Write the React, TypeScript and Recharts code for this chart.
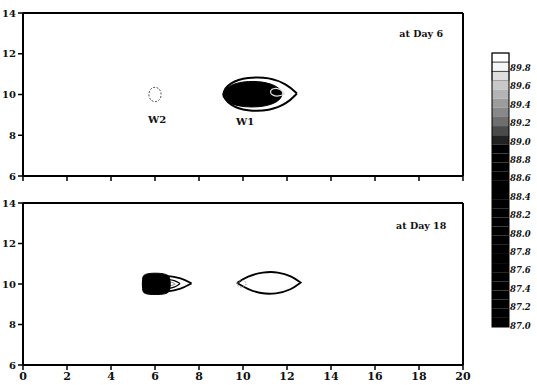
import { ScatterChart, Scatter, XAxis, YAxis, ReferenceDot, Curve } from "recharts";

const xTicks = [0, 2, 4, 6, 8, 10, 12, 14, 16, 18, 20];
const yTicks = [6, 8, 10, 12, 14];

// contour outlines (x = distance, y = distance)
const d6W1Outer = [[12.45, 10.05], [12.45, 10.05], [12.45, 10.05], [12.0, 10.5], [11.2, 10.85], [10.2, 10.85], [9.4, 10.6], [9.0, 10.05], [9.4, 9.45], [10.2, 9.18], [11.2, 9.2], [12.0, 9.55]];
const d6W1Core = [[11.85, 10.02], [11.6, 10.4], [10.9, 10.65], [10.0, 10.65], [9.35, 10.45], [8.95, 10.0], [9.35, 9.55], [10.0, 9.38], [10.9, 9.38], [11.6, 9.62]];
const d6W1Inner = [[11.9, 10.02], [11.9, 10.02], [11.9, 10.02], [11.7, 10.28], [11.35, 10.32], [11.2, 10.12], [11.35, 9.95], [11.6, 9.9]];
const d6W2Ring = [[6.0, 10.39], [6.22, 10.28], [6.31, 10.0], [6.22, 9.72], [6.0, 9.61], [5.78, 9.72], [5.69, 10.0], [5.78, 10.28]];

const d18W2Outer = [[7.66, 10.03], [7.66, 10.03], [7.66, 10.03], [7.2, 10.3], [6.5, 10.42], [5.9, 10.42], [5.55, 10.3], [5.45, 10.0], [5.55, 9.7], [5.9, 9.58], [6.5, 9.6], [7.2, 9.75]];
const d18W2Ring = [[7.14, 10.02], [7.14, 10.02], [7.14, 10.02], [6.9, 10.18], [6.5, 10.25], [6.2, 10.2], [6.1, 10.0], [6.2, 9.8], [6.5, 9.75], [6.9, 9.83]];
const d18W2Small = [[6.92, 10.0], [6.92, 10.0], [6.92, 10.0], [6.75, 10.1], [6.55, 10.1], [6.5, 10.0], [6.55, 9.9], [6.75, 9.9]];
const d18W2Core = [[5.5, 10.5], [6.0, 10.55], [6.55, 10.5], [6.7, 10.3], [6.7, 9.7], [6.55, 9.5], [6.0, 9.47], [5.5, 9.5], [5.42, 9.7], [5.42, 10.3]];
const d18W1Lens = [[9.73, 10.05], [9.73, 10.05], [9.73, 10.05], [10.2, 10.38], [10.9, 10.6], [11.6, 10.6], [12.2, 10.4], [12.62, 10.07], [12.62, 10.07], [12.62, 10.07], [12.2, 9.72], [11.5, 9.5], [10.8, 9.52], [10.2, 9.75]];
const d18W1Tip = [[9.85, 10.22], [10.1, 10.14], [10.18, 10.0], [10.05, 9.86], [9.8, 9.83], [9.72, 10.0]];

const colorTicks = ["89.8", "89.6", "89.4", "89.2", "89.0", "88.8", "88.6", "88.4", "88.2", "88.0", "87.8", "87.6", "87.4", "87.2", "87.0"];
// top boxes of the colour bar (90.0 downwards); the rest are black
const colorShades = ["#ffffff", "#f6f6f6", "#dedede", "#c8c8c8", "#b4b4b4", "#9c9c9c", "#888888", "#6e6e6e", "#4a4a4a", "#222222"];
const colorBoxes = 30;

const pts = (a: number[][]) => a.map(([x, y]) => ({ x, y }));

const font = "'DejaVu Serif', serif";
const tickStyle = { fill: "#111", fontSize: 10, fontFamily: font, fontWeight: "bold" };
const noLabel = () => "";
const hidden = () => <g />;

function contourLine(fill: string, stroke: string, width: number, dash?: string) {
  return (p: any) => (
    <Curve
      points={p.points}
      type="basisClosed"
      fill={fill}
      stroke={stroke}
      strokeWidth={width}
      strokeDasharray={dash}
    />
  );
}

function Axes({ showX }: { showX: boolean }) {
  const common = {
    axisLine: { stroke: "#000", strokeWidth: 2 },
    tickLine: { stroke: "#000", strokeWidth: 1.5 },
    tickSize: 5,
  };
  return [
    <XAxis
      key="xb"
      type="number"
      dataKey="x"
      domain={[0, 20]}
      ticks={xTicks}
      height={showX ? 20 : 14}
      tick={{ ...tickStyle, fontSize: 11 }}
      tickFormatter={showX ? undefined : noLabel}
      {...common}
    />,
    <XAxis
      key="xt"
      xAxisId="top"
      orientation="top"
      type="number"
      domain={[0, 20]}
      ticks={xTicks}
      height={8}
      tickFormatter={noLabel}
      {...common}
    />,
    <YAxis
      key="yl"
      type="number"
      dataKey="y"
      domain={[6, 14]}
      ticks={yTicks}
      width={23}
      tick={tickStyle}
      {...common}
    />,
    <YAxis
      key="yr"
      yAxisId="right"
      orientation="right"
      type="number"
      domain={[6, 14]}
      ticks={yTicks}
      width={10}
      tickFormatter={noLabel}
      {...common}
    />,
  ];
}

const textLabel = (value: string, size = 10) => ({
  value,
  position: "center" as const,
  fill: "#111",
  fontSize: size,
  fontFamily: font,
  fontWeight: "bold",
});

function ColorBar() {
  const top = 53;
  const h = 274 / colorBoxes;
  return (
    <svg width={57} height={340} style={{ position: "absolute", left: 480, top: 0 }}>
      {Array.from({ length: colorBoxes }, (_, i) => (
        <rect
          key={i}
          x={12}
          y={top + i * h}
          width={17}
          height={h}
          fill={colorShades[i] ?? "#000"}
          stroke={i < 3 ? "#000" : "none"}
          strokeWidth={0.6}
        />
      ))}
      <rect x={12} y={top} width={17} height={274} fill="none" stroke="#000" strokeWidth={1} />
      {colorTicks.map((t, i) => (
        <text
          key={t}
          x={30}
          y={68 + i * 18.4}
          dominantBaseline="central"
          fontSize={8.5}
          fontFamily={font}
          fontWeight="bold"
          fontStyle="italic"
          fill="#111"
        >
          {t}
        </text>
      ))}
    </svg>
  );
}

export default function App() {
  const margin = { top: 5, right: 64, bottom: 0, left: 0 };
  return (
    <div style={{ position: "absolute", left: 0, top: 0, width: 537, height: 385, background: "#fff" }}>
      <div style={{ position: "absolute", left: 0, top: 0 }}>
        <ScatterChart width={537} height={190} margin={margin}>
          {Axes({ showX: false })}
          <Scatter data={pts(d6W1Outer)} line={contourLine("#fff", "#000", 2)} shape={hidden} isAnimationActive={false} />
          <Scatter data={pts(d6W1Core)} line={contourLine("#000", "#000", 1)} shape={hidden} isAnimationActive={false} />
          <Scatter data={pts(d6W1Inner)} line={contourLine("none", "#e0e0e0", 1.2)} shape={hidden} isAnimationActive={false} />
          <Scatter data={pts(d6W2Ring)} line={contourLine("none", "#555", 1, "2 1.5")} shape={hidden} isAnimationActive={false} />
          <ReferenceDot x={6.1} y={8.8} r={0} stroke="none" label={textLabel("W2")} />
          <ReferenceDot x={10.1} y={8.7} r={0} stroke="none" label={textLabel("W1")} />
          <ReferenceDot x={18.1} y={13.0} r={0} stroke="none" label={textLabel("at Day 6", 9.5)} />
        </ScatterChart>
      </div>
      <div style={{ position: "absolute", left: 0, top: 190 }}>
        <ScatterChart width={537} height={195} margin={margin}>
          {Axes({ showX: true })}
          <Scatter data={pts(d18W2Outer)} line={contourLine("#fff", "#000", 1.8)} shape={hidden} isAnimationActive={false} />
          <Scatter data={pts(d18W2Ring)} line={contourLine("none", "#000", 1.2)} shape={hidden} isAnimationActive={false} />
          <Scatter data={pts(d18W2Small)} line={contourLine("none", "#888", 1)} shape={hidden} isAnimationActive={false} />
          <Scatter data={pts(d18W2Core)} line={contourLine("#000", "#000", 1)} shape={hidden} isAnimationActive={false} />
          <Scatter data={pts(d18W1Lens)} line={contourLine("none", "#000", 1.8)} shape={hidden} isAnimationActive={false} />
          <Scatter data={pts(d18W1Tip)} line={contourLine("none", "#999", 1, "1.5 1.5")} shape={hidden} isAnimationActive={false} />
          <ReferenceDot x={18.1} y={12.9} r={0} stroke="none" label={textLabel("at Day 18", 9.5)} />
        </ScatterChart>
      </div>
      <ColorBar />
    </div>
  );
}
